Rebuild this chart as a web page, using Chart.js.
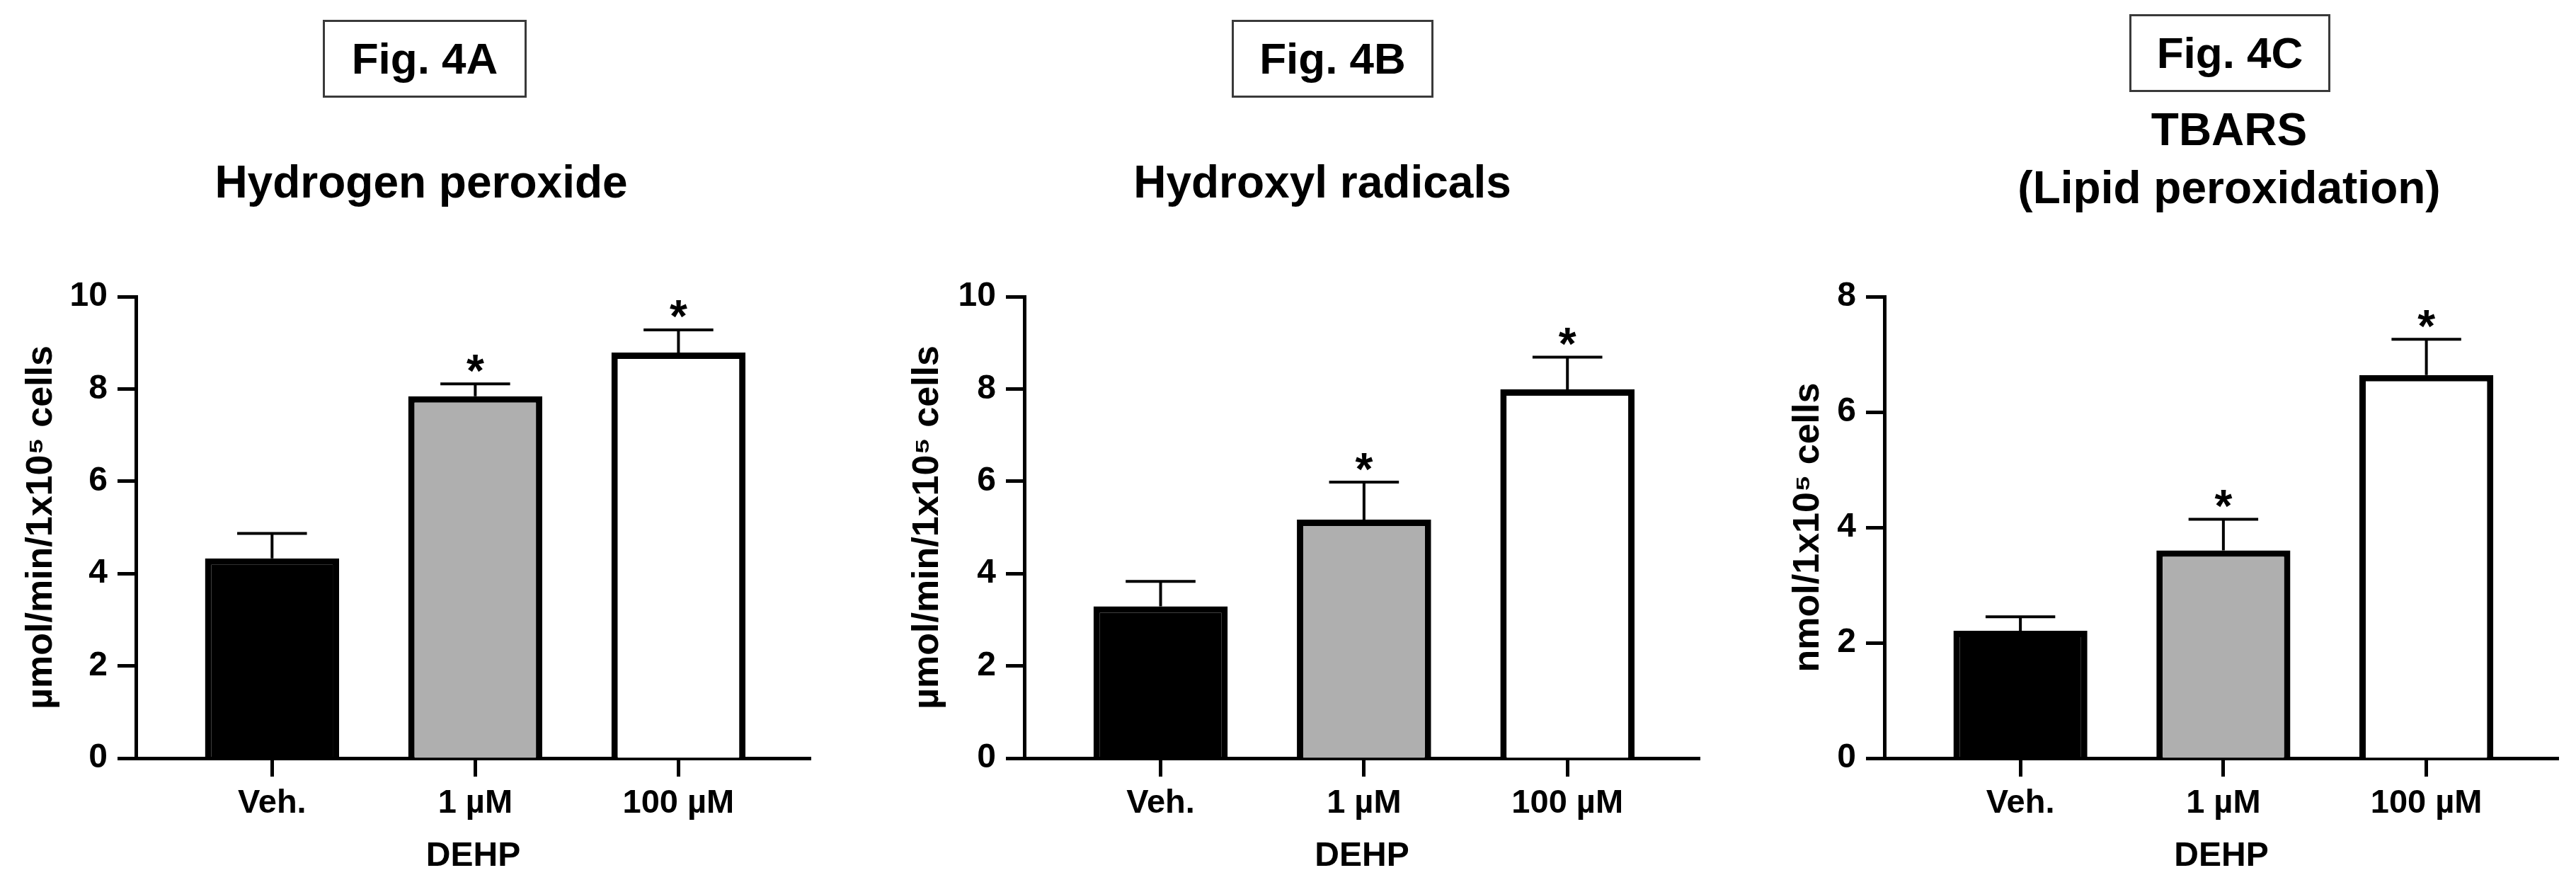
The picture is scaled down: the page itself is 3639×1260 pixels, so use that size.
<!DOCTYPE html>
<html>
<head>
<meta charset="utf-8">
<script src="https://cdn.jsdelivr.net/npm/chart.js@4.4.1/dist/chart.umd.min.js"></script>
<style>
  html, body { margin: 0; padding: 0; background: #fff; }
  body { width: 3639px; height: 1260px; position: relative; overflow: hidden;
         font-family: "Liberation Sans", Arial, sans-serif; font-weight: bold; color: #000; }
  .panel { position: absolute; top: 0; width: 1213px; height: 1260px; }
  .figbox { position: absolute; border: 3px solid #3a3a3a; box-sizing: border-box;
            text-align: center; font-size: 62px; line-height: 104px; height: 110px; }
  .ttl { position: absolute; width: 800px; text-align: center; font-size: 64px;
         line-height: 82px; white-space: nowrap; }
</style>
</head>
<body>
<div class="figbox" style="left:456px; top:28px; width:288px;">Fig. 4A</div>
<div class="figbox" style="left:1740px; top:28px; width:285px;">Fig. 4B</div>
<div class="figbox" style="left:3008px; top:20px; width:284px;">Fig. 4C</div>

<div class="ttl" style="left:195px; top:216px;">Hydrogen peroxide</div>
<div class="ttl" style="left:1468px; top:216px;">Hydroxyl radicals</div>
<div class="ttl" style="left:2749px; top:142px;">TBARS<br>(Lipid peroxidation)</div>

<div class="panel" style="left:0px;"><canvas id="chartA" width="1213" height="1260"></canvas></div>
<div class="panel" style="left:1213px;"><canvas id="chartB" width="1213" height="1260"></canvas></div>
<div class="panel" style="left:2426px;"><canvas id="chartC" width="1213" height="1260"></canvas></div>

<script>
// groups on the x axis
const categories = ['Veh.', '1 µM', '100 µM'];
const xAxisTitle = 'DEHP';

// Fig. 4A - hydrogen peroxide (mean, SEM)
const h2o2Values = [4.33, 7.84, 8.79];
const h2o2Errors = [0.54, 0.27, 0.49];
const h2o2Ticks = [0, 2, 4, 6, 8, 10];

// Fig. 4B - hydroxyl radicals
const hydroxylValues = [3.29, 5.17, 7.99];
const hydroxylErrors = [0.54, 0.81, 0.70];
const hydroxylTicks = [0, 2, 4, 6, 8, 10];

// Fig. 4C - TBARS
const tbarsValues = [2.21, 3.60, 6.64];
const tbarsErrors = [0.24, 0.54, 0.62];
const tbarsTicks = [0, 2, 4, 6, 8];

// asterisk above the bar (p < 0.05 vs vehicle)
const significant = [false, true, true];

const barColors = ['#000000', '#afafaf', '#ffffff'];
const FONT = '"Liberation Sans", Arial, sans-serif';

const errorBarPlugin = {
    id: 'errorBars',
    afterDatasetsDraw(chart, args, opts) {
        const ctx = chart.ctx;
        const yScale = chart.scales.y;
        const meta = chart.getDatasetMeta(0);
        ctx.save();
        ctx.strokeStyle = '#000';
        ctx.fillStyle = '#000';
        ctx.lineWidth = 4;
        meta.data.forEach((bar, i) => {
            const top = yScale.getPixelForValue(opts.values[i] + opts.errors[i]);
            const half = bar.width * 0.26;
            ctx.beginPath();
            ctx.moveTo(bar.x, bar.y);
            ctx.lineTo(bar.x, top);
            ctx.moveTo(bar.x - half, top);
            ctx.lineTo(bar.x + half, top);
            ctx.stroke();
            if (opts.marks[i]) {
                const fs = 64;
                ctx.font = 'bold ' + fs + 'px ' + FONT;
                ctx.textAlign = 'center';
                ctx.textBaseline = 'alphabetic';
                ctx.fillText('*', bar.x, top + 0.43 * fs - 24);
            }
        });
        ctx.restore();
    }
};

function makeChart(id, cfg) {
    const canvas = document.getElementById(id);
    return new Chart(canvas.getContext('2d'), {
        type: 'bar',
        data: {
            datasets: [{
                data: categories.map((c, i) => ({ x: i, y: cfg.values[i] })),
                backgroundColor: barColors,
                borderColor: '#000',
                borderWidth: 9,
                borderSkipped: 'start',
                categoryPercentage: 1,
                barPercentage: 0.66
            }]
        },
        options: {
            responsive: false,
            animation: false,
            layout: { padding: { top: 419, bottom: 0, left: 0, right: cfg.padRight } },
            plugins: {
                legend: { display: false },
                tooltip: { enabled: false },
                errorBars: { values: cfg.values, errors: cfg.errors, marks: significant }
            },
            scales: {
                x: {
                    type: 'linear',
                    min: -0.67,
                    max: 2.65,
                    offset: false,
                    z: 1,
                    afterBuildTicks: s => { s.ticks = categories.map((c, i) => ({ value: i })); },
                    afterFit: s => { s.height = 189; },
                    ticks: {
                        callback: v => categories[v],
                        autoSkip: false,
                        maxRotation: 0,
                        color: '#000',
                        padding: 10,
                        font: { family: FONT, size: 47, weight: 'bold' }
                    },
                    grid: {
                        drawOnChartArea: false,
                        offset: false,
                        tickLength: 26,
                        tickWidth: 5,
                        tickColor: '#000',
                        color: '#000'
                    },
                    border: { color: '#000', width: 5 },
                    title: {
                        display: true,
                        text: xAxisTitle,
                        color: '#000',
                        padding: { top: 0, bottom: 21 },
                        font: { family: FONT, size: 48, weight: 'bold' }
                    }
                },
                y: {
                    min: 0,
                    max: cfg.ticks[cfg.ticks.length - 1],
                    afterBuildTicks: s => { s.ticks = cfg.ticks.map(v => ({ value: v })); },
                    afterFit: s => { s.width = cfg.axisWidth; },
                    ticks: {
                        color: '#000',
                        padding: 14,
                        font: { family: FONT, size: 48, weight: 'bold' }
                    },
                    grid: {
                        drawOnChartArea: false,
                        tickLength: 26,
                        tickWidth: 5,
                        tickColor: '#000',
                        color: '#000'
                    },
                    border: { color: '#000', width: 5 },
                    title: {
                        display: true,
                        text: cfg.yTitle,
                        color: '#000',
                        padding: { top: cfg.titlePad, bottom: 0 },
                        font: { family: FONT, size: 52, weight: 'bold' }
                    }
                }
            }
        },
        plugins: [errorBarPlugin]
    });
}

makeChart('chartA', {
    values: h2o2Values, errors: h2o2Errors, ticks: h2o2Ticks,
    yTitle: 'µmol/min/1x10⁵ cells', axisWidth: 192, titlePad: 27, padRight: 68
});
makeChart('chartB', {
    values: hydroxylValues, errors: hydroxylErrors, ticks: hydroxylTicks,
    yTitle: 'µmol/min/1x10⁵ cells', axisWidth: 234, titlePad: 66, padRight: 25
});
makeChart('chartC', {
    values: tbarsValues, errors: tbarsErrors, ticks: tbarsTicks,
    yTitle: 'nmol/1x10⁵ cells', axisWidth: 236, titlePad: 97, padRight: 25
});
</script>
</body>
</html>
